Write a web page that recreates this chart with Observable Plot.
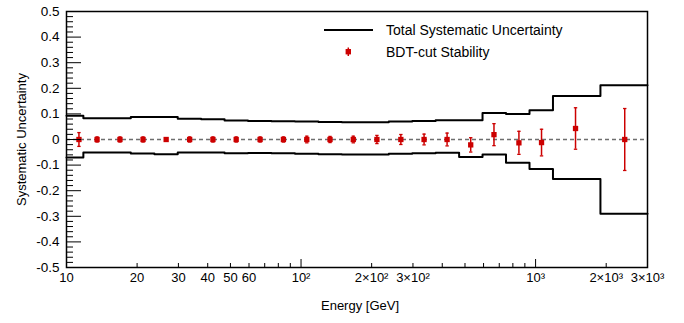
<!DOCTYPE html>
<html><head><meta charset="utf-8">
<script src="https://cdn.jsdelivr.net/npm/d3@7"></script>
<script src="https://cdn.jsdelivr.net/npm/@observablehq/plot@0.6"></script>
<style>
html,body{margin:0;padding:0;background:#fff;}
#chart{width:684px;height:323px;}
</style></head><body><div id="chart"></div>
<script>
// Bin edges (GeV) of the systematic-uncertainty band
const binEdges = [10, 11.8, 15.0, 18.8, 23.7, 29.8, 37.5, 47.2, 59.4, 74.8, 94.2, 118.6, 149.3, 188, 236.6, 297.9, 375, 472, 594, 748, 942, 1186, 1890, 3000];
// Upper / lower edge of the total systematic uncertainty in each bin
const upperBound = [0.093, 0.083, 0.083, 0.088, 0.088, 0.0815, 0.079, 0.074, 0.072, 0.071, 0.070, 0.068, 0.067, 0.067, 0.070, 0.072, 0.075, 0.075, 0.1035, 0.0996, 0.114, 0.170, 0.2115];
const lowerBound = [-0.0706, -0.051, -0.051, -0.055, -0.0575, -0.051, -0.051, -0.0536, -0.0524, -0.0536, -0.056, -0.0575, -0.059, -0.059, -0.056, -0.0536, -0.052, -0.068, -0.059, -0.091, -0.115, -0.154, -0.290];
// BDT-cut stability points
const pointEnergy = [11.3, 13.5, 16.9, 21.2, 26.6, 33.5, 42.1, 52.9, 66.9, 84.1, 105.8, 132.9, 167.0, 210.6, 266.4, 334.6, 419.4, 528.9, 664.6, 849, 1060, 1480, 2399];
const pointValue = [0, 0, 0, 0, 0, 0, 0, 0, 0, 0, 0, 0, 0, 0, 0, 0, 0, -0.021, 0.019, -0.013, -0.012, 0.043, 0];
const pointError = [0.027, 0.010, 0.010, 0.010, 0.006, 0.010, 0.010, 0.010, 0.010, 0.010, 0.013, 0.012, 0.013, 0.016, 0.0195, 0.021, 0.025, 0.028, 0.043, 0.045, 0.052, 0.081, 0.121];
// Axis ticks
const yMajor = [-0.5, -0.4, -0.3, -0.2, -0.1, 0, 0.1, 0.2, 0.3, 0.4, 0.5];
const xMajor = [10, 100, 1000];
const xMinor = [20, 30, 40, 50, 60, 70, 80, 90, 200, 300, 400, 500, 600, 700, 800, 900, 2000, 3000];
const xLabelValues = [10, 20, 30, 40, 50, 60, 100, 200, 300, 1000, 2000, 3000];
const xLabelText = ["10", "20", "30", "40", "50", "60", "10²", "2×10²", "3×10²", "10³", "2×10³", "3×10³"];

const red = "#cc0000";
const yMinor = d3.range(-25, 26).map(i => i / 50).filter((v, i) => (i % 5) !== 0);
const steps = vals => binEdges.map((e, i) => ({E: e, v: vals[Math.min(i, vals.length - 1)]}));
const pts = pointEnergy.map((E, i) => ({E, v: pointValue[i], err: pointError[i]}));
const xLabels = xLabelValues.map((E, i) => ({E, t: xLabelText[i]}));
const cap = {draw(ctx, size) { const r = Math.sqrt(size / Math.PI); ctx.moveTo(-r, 0); ctx.lineTo(r, 0); }};
const font = "'Liberation Sans', Arial, Helvetica, sans-serif";

const chart = Plot.plot({
  width: 684, height: 323,
  marginLeft: 66, marginRight: 37, marginTop: 11, marginBottom: 56,
  x: {type: "log", domain: [10, 3000]},
  y: {domain: [-0.5, 0.5]},
  style: {fontFamily: font, fontSize: "13px", background: "white", color: "black", overflow: "visible"},
  marks: [
    Plot.ruleY([0], {stroke: "#6e6e6e", strokeWidth: 1.5, strokeDasharray: "4,3"}),
    Plot.line(steps(upperBound), {x: "E", y: "v", curve: "step-after", stroke: "black", strokeWidth: 2}),
    Plot.line(steps(lowerBound), {x: "E", y: "v", curve: "step-after", stroke: "black", strokeWidth: 2}),
    Plot.ruleX(pts, {x: "E", y1: d => d.v - d.err, y2: d => d.v + d.err, stroke: red, strokeWidth: 1.5}),
    Plot.dot(pts, {x: "E", y: d => d.v + d.err, symbol: cap, r: 1.7, stroke: red, strokeWidth: 1.3}),
    Plot.dot(pts, {x: "E", y: d => d.v - d.err, symbol: cap, r: 1.7, stroke: red, strokeWidth: 1.3}),
    Plot.dot(pts, {x: "E", y: "v", symbol: "square", r: 3, fill: red, stroke: "none"}),
    // y axis: inward ticks + labels
    Plot.axisY({ticks: yMajor, tickSize: -15, text: null, label: null}),
    Plot.axisY({ticks: yMinor, tickSize: -7, text: null, label: null}),
    Plot.axisY({ticks: yMajor, tickSize: 0, tickPadding: 7, fontSize: 13.5, label: null,
      tickFormat: d => d === 0 ? "0" : d.toFixed(1)}),
    // x axis: inward ticks + labels
    Plot.axisX({ticks: xMajor, tickSize: -8, text: null, label: null}),
    Plot.axisX({ticks: xMinor, tickSize: -4, text: null, label: null}),
    Plot.text(xLabels, {x: "E", text: "t", frameAnchor: "bottom", dy: 14, fontSize: 13, textAnchor: "middle"}),
    Plot.text(["Systematic Uncertainty"], {frameAnchor: "left", rotate: -90, dx: -45, fontSize: 13, textAnchor: "middle"}),
    Plot.text(["Energy [GeV]"], {frameAnchor: "bottom", dx: 3, dy: 42, fontSize: 13, textAnchor: "middle"}),
    Plot.frame({stroke: "black", strokeWidth: 1.5})
  ]
});
document.getElementById("chart").appendChild(chart);

// Legend (inside the frame, top right)
const svg = d3.select(chart);
const g = svg.append("g").attr("font-family", font).attr("font-size", 14).attr("text-anchor", "start").attr("fill", "black");
g.append("line").attr("x1", 324).attr("x2", 373).attr("y1", 30).attr("y2", 30).attr("stroke", "black").attr("stroke-width", 2);
g.append("text").attr("x", 386).attr("y", 30).attr("dy", "0.35em").text("Total Systematic Uncertainty");
g.append("line").attr("x1", 348.3).attr("x2", 348.3).attr("y1", 47.5).attr("y2", 56).attr("stroke", red).attr("stroke-width", 1.5);
g.append("rect").attr("x", 345.6).attr("y", 49).attr("width", 5.4).attr("height", 5.4).attr("fill", red);
g.append("text").attr("x", 386).attr("y", 51.7).attr("dy", "0.35em").text("BDT-cut Stability");
</script></body></html>
